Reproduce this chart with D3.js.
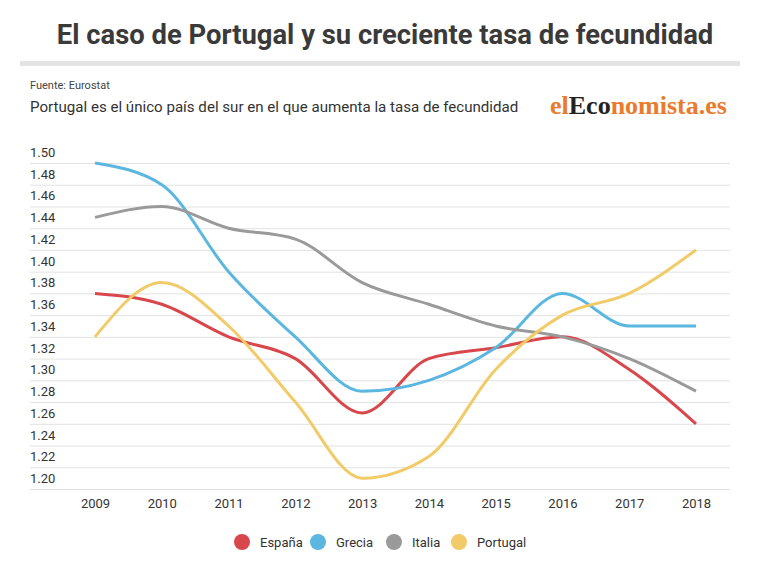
<!DOCTYPE html>
<html>
<head>
<meta charset="utf-8">
<script src="https://cdnjs.cloudflare.com/ajax/libs/d3/7.8.5/d3.min.js"></script>
<style>
  body { margin: 0; background: #fff; font-family: Roboto, "Noto Sans", sans-serif; }
</style>
</head>
<body>
<script>
// data
var years = [2009, 2010, 2011, 2012, 2013, 2014, 2015, 2016, 2017, 2018];
var espana   = [1.38, 1.37, 1.34, 1.32, 1.27, 1.32, 1.33, 1.34, 1.31, 1.26];
var grecia   = [1.50, 1.48, 1.40, 1.34, 1.29, 1.30, 1.33, 1.38, 1.35, 1.35];
var italia   = [1.45, 1.46, 1.44, 1.43, 1.39, 1.37, 1.35, 1.34, 1.32, 1.29];
var portugal = [1.34, 1.39, 1.35, 1.28, 1.21, 1.23, 1.31, 1.36, 1.38, 1.42];
var yTicks = [1.20, 1.22, 1.24, 1.26, 1.28, 1.30, 1.32, 1.34, 1.36, 1.38, 1.40, 1.42, 1.44, 1.46, 1.48, 1.50];

var series = [
  {name: "España", values: espana, color: "#d8474b"},
  {name: "Grecia", values: grecia, color: "#5bb7e0"},
  {name: "Italia", values: italia, color: "#9a9a9a"},
  {name: "Portugal", values: portugal, color: "#f1cb67"}
];

var svgWidth = 770, svgHeight = 570;

var svg = d3.select("body")
    .append("svg")
    .attr("width", svgWidth)
    .attr("height", svgHeight);

// header
svg.append("text")
    .attr("x", 385)
    .attr("y", 44)
    .attr("text-anchor", "middle")
    .attr("font-size", "27.4px")
    .attr("font-weight", "bold")
    .attr("fill", "#3a3a3a")
    .text("El caso de Portugal y su creciente tasa de fecundidad");

svg.append("rect")
    .attr("x", 20).attr("y", 61)
    .attr("width", 720).attr("height", 5)
    .attr("fill", "#e3e3e3");

svg.append("text")
    .attr("x", 30).attr("y", 89)
    .attr("font-size", "11px")
    .attr("fill", "#444")
    .text("Fuente: Eurostat");

svg.append("text")
    .attr("x", 30).attr("y", 112)
    .attr("font-size", "15.1px")
    .attr("fill", "#333")
    .text("Portugal es el único país del sur en el que aumenta la tasa de fecundidad");

var logo = svg.append("text")
    .attr("x", 550).attr("y", 114)
    .attr("font-family", "'Liberation Serif', 'DejaVu Serif', serif")
    .attr("font-size", "26px")
    .attr("font-weight", "bold")
    .attr("fill", "#ea7a2c");
logo.append("tspan").text("el");
logo.append("tspan").attr("fill", "#222").text("Eco");
logo.append("tspan").text("nomista.es");

// scales
var x = d3.scalePoint()
    .domain(years)
    .range([95, 696]);

var y = d3.scaleLinear()
    .domain([1.20, 1.50])
    .range([489, 163]);

// grid and y labels
var yAxis = d3.axisLeft(y)
    .tickValues(yTicks)
    .tickSize(-700)
    .tickFormat(d3.format(".2f"));

var yg = svg.append("g")
    .attr("transform", "translate(30,0)")
    .call(yAxis);
yg.select(".domain").remove();
yg.selectAll(".tick line").attr("stroke", "#e2e2e2");
yg.selectAll(".tick text")
    .attr("x", 0)
    .attr("dy", "-0.5em")
    .attr("text-anchor", "start")
    .attr("font-family", "Roboto, sans-serif")
    .attr("font-size", "13px")
    .attr("fill", "#333");

// x labels
var xAxis = d3.axisBottom(x).tickSize(0).tickPadding(10);
var xg = svg.append("g")
    .attr("transform", "translate(0,489)")
    .call(xAxis);
xg.select(".domain").remove();
xg.selectAll(".tick text")
    .attr("font-family", "Roboto, sans-serif")
    .attr("font-size", "13px")
    .attr("fill", "#333");

// lines
var line = d3.line()
    .x((d, i) => x(years[i]))
    .y(d => y(d))
    .curve(d3.curveMonotoneX);

svg.selectAll("path.serie")
    .data(series)
    .enter()
    .append("path")
    .attr("class", "serie")
    .attr("d", d => line(d.values))
    .attr("fill", "none")
    .attr("stroke", d => d.color)
    .attr("stroke-width", 3);

// legend
var legendPos = [242, 318, 394, 459];
var legend = svg.selectAll("g.legend")
    .data(series)
    .enter()
    .append("g")
    .attr("class", "legend")
    .attr("transform", (d, i) => `translate(${legendPos[i]}, 542)`);

legend.append("circle")
    .attr("r", 8)
    .attr("fill", d => d.color);

legend.append("text")
    .attr("x", 18)
    .attr("dy", "0.35em")
    .attr("font-size", "13px")
    .attr("fill", "#333")
    .text(d => d.name);
</script>
</body>
</html>
